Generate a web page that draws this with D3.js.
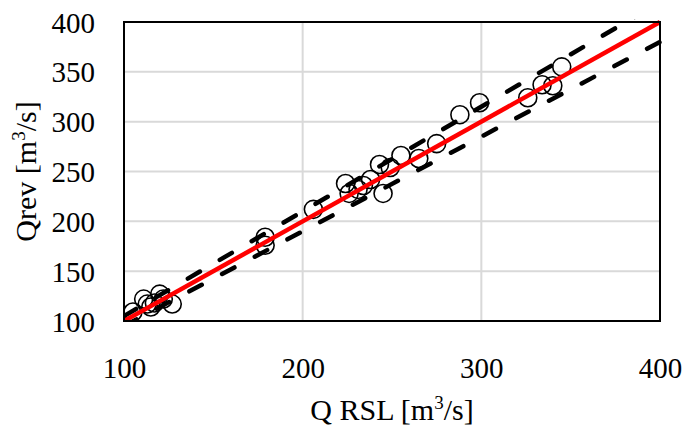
<!DOCTYPE html>
<html><head><meta charset="utf-8">
<script src="https://cdn.jsdelivr.net/npm/d3@7"></script>
<style>
html,body{margin:0;padding:0;background:#fff;}
text{font-family:"Liberation Serif","Times New Roman",serif;fill:#000;}
</style></head>
<body><svg id="c" width="684" height="427"></svg>
<script>
const qRSL = [105,111,113,115,117,120,122,127,179,179,206,224,226,231,234,238,245,243,249,255,265,275,288,299,326,334,340,345];
const qRev = [109,122,117,114,118,127,122,117,184,176,212,238,228,232,236,242,228,257,254,266,263,278,307,319,324,337,336,355];
const xTicks = [100,200,300,400];
const yTicks = [100,150,200,250,300,350,400];
const lineX = [100,400];
const upperFactor = 1.05, lowerFactor = 0.95;

const svg = d3.select("#c");
const L=124, R=660, T=22, B=321;
const x = d3.scaleLinear().domain([100,400]).range([L,R]);
const y = d3.scaleLinear().domain([100,400]).range([B,T]);

svg.append("clipPath").attr("id","clip").append("rect")
  .attr("x",L).attr("y",T-3).attr("width",R-L+3).attr("height",B-T+3);

// grid
const g = svg.append("g");
g.selectAll(".gx").data(xTicks.slice(1,-1)).enter().append("line")
  .attr("x1",d=>x(d)).attr("x2",d=>x(d)).attr("y1",T).attr("y2",B)
  .attr("stroke","#d9d9d9").attr("stroke-width",2);
g.selectAll(".gy").data(yTicks.slice(1,-1)).enter().append("line")
  .attr("x1",L).attr("x2",R).attr("y1",d=>y(d)).attr("y2",d=>y(d))
  .attr("stroke","#d9d9d9").attr("stroke-width",2);

const xAxis = svg.append("g").attr("transform",`translate(0,${B})`)
  .call(d3.axisBottom(x).tickValues(xTicks).tickSize(0).tickPadding(36));
xAxis.select(".domain").remove();
xAxis.selectAll("text").attr("font-size",29).attr("font-family","Liberation Serif");
const yAxis = svg.append("g").attr("transform",`translate(${L},0)`)
  .call(d3.axisLeft(y).tickValues(yTicks).tickSize(0).tickPadding(29));
yAxis.select(".domain").remove();
yAxis.selectAll("text").attr("font-size",29).attr("font-family","Liberation Serif").attr("dy","0.35em");

const plot = svg.append("g").attr("clip-path","url(#clip)");
const ln = d3.line().x(d=>x(d[0])).y(d=>y(d[1]));
plot.selectAll("circle").data(qRSL.map((v,i)=>[v,qRev[i]])).enter().append("circle")
  .attr("cx",d=>x(d[0])).attr("cy",d=>y(d[1])).attr("r",9)
  .attr("fill","none").attr("stroke","#000").attr("stroke-width",1.6);
plot.append("path").attr("d",ln(lineX.map(v=>[v,v*upperFactor])))
  .attr("stroke","#000").attr("stroke-width",4.5).attr("fill","none")
  .attr("stroke-dasharray","14,23").attr("stroke-linecap","round");
plot.append("path").attr("d",ln(lineX.map(v=>[v,v*lowerFactor])))
  .attr("stroke","#000").attr("stroke-width",4.5).attr("fill","none")
  .attr("stroke-dasharray","14,23").attr("stroke-linecap","round");
plot.append("path").attr("d",ln(lineX.map(v=>[v,v])))
  .attr("stroke","#ff0000").attr("stroke-width",4.5).attr("fill","none");

svg.append("rect").attr("x",L).attr("y",T).attr("width",R-L).attr("height",B-T)
  .attr("fill","none").attr("stroke","#000").attr("stroke-width",2);

const xt = svg.append("text").attr("x",(L+R)/2).attr("y",420).attr("text-anchor","middle").attr("font-size",30);
xt.append("tspan").text("Q RSL [m");
xt.append("tspan").text("3").attr("font-size",19).attr("dy",-11);
xt.append("tspan").text("/s]").attr("dy",11);
const yt = svg.append("text").attr("transform",`translate(36,${(T+B)/2}) rotate(-90)`).attr("text-anchor","middle").attr("font-size",30);
yt.append("tspan").text("Qrev [m");
yt.append("tspan").text("3").attr("font-size",19).attr("dy",-11);
yt.append("tspan").text("/s]").attr("dy",11);
</script></body></html>
